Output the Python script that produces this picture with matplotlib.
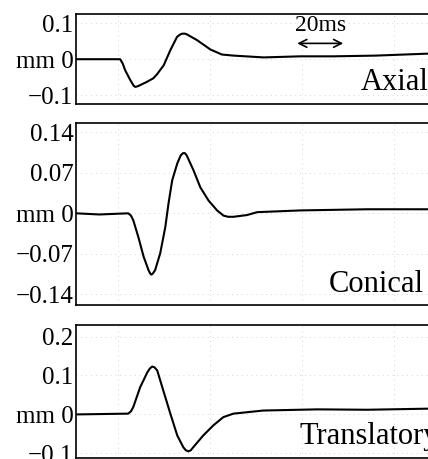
import numpy as np
from matplotlib import pyplot as plt

# time (ms) and displacement (mm)
axial_t = [0, 19.1, 20.2, 21.3, 23.5, 25.0, 25.7, 26.8, 30.7, 33.5, 35.1, 38.0, 40.9,
           43.8, 45.0, 46.0, 47.2, 48.1, 52.5, 58.3, 63.3, 68.4, 81.4, 97.4, 111.7,
           130, 155]
axial_v = [0, 0, -0.012, -0.031, -0.058, -0.074, -0.077, -0.075, -0.063, -0.053, -0.042,
           -0.017, 0.025, 0.062, 0.068, 0.071, 0.071, 0.069, 0.053, 0.027, 0.013, 0.010,
           0.005, 0.008, 0.008, 0.010, 0.016]

conical_t = [0, 10, 22.6, 23.8, 24.8, 27.0, 29.3, 31.4, 32.0, 32.6, 33.3, 34.3, 36.5,
             38.7, 40.1, 41.7, 43.9, 45.4, 46.4, 47.2, 48.0, 51.0, 53.9, 57.5, 61.2,
             64.0, 66.0, 68.3, 74.2, 78.6, 97.4, 126.5, 155]
conical_v = [0, -0.002, 0, -0.004, -0.012, -0.041, -0.075, -0.098, -0.103, -0.106, -0.104,
             -0.098, -0.069, -0.024, 0.017, 0.057, 0.086, 0.100, 0.104, 0.104, 0.100,
             0.074, 0.045, 0.022, 0.005, -0.004, -0.006, -0.006, -0.003, 0.002, 0.005,
             0.007, 0.007]

transl_t = [0, 22.6, 23.8, 24.8, 27.8, 30.9, 32.0, 33.0, 34.0, 35.2, 37.8, 40.9, 43.9,
            46.5, 47.6, 48.7, 49.8, 50.9, 55.2, 59.6, 63.9, 68.3, 81.3, 104.8, 126.5, 155]
transl_v = [0, 0.002, 0.008, 0.019, 0.070, 0.108, 0.118, 0.123, 0.121, 0.113, 0.062,
            0.002, -0.054, -0.084, -0.092, -0.095, -0.092, -0.084, -0.054, -0.028, -0.007,
            0.002, 0.010, 0.013, 0.012, 0.015]

names = ['Axial', 'Conical', 'Translatory']
yticks = [[-0.1, 0, 0.1], [-0.14, -0.07, 0, 0.07, 0.14], [-0.1, 0, 0.1, 0.2]]
yticklabels = [['\u22120.1', 'mm 0', '0.1'],
               ['\u22120.14', '\u22120.07', 'mm 0', '0.07', '0.14'],
               ['\u22120.1', 'mm 0', '0.1', '0.2']]
ylims = [(-0.125, 0.125), (-0.158, 0.156), (-0.111, 0.231)]
grid_x = [18, 58, 98, 138]

plt.rcParams['font.family'] = ['Liberation Serif', 'DejaVu Serif']

fig = plt.figure(figsize=(4.28, 4.59), dpi=100)
boxes = [[0.178, 0.773, 0.83, 0.196],
         [0.178, 0.336, 0.83, 0.396],
         [0.178, 0.003, 0.83, 0.290]]
data = [(axial_t, axial_v), (conical_t, conical_v), (transl_t, transl_v)]
name_x = [0.80, 0.71, 0.628]
name_y = [0.24, 0.11, 0.16]

for i in range(3):
    ax = fig.add_axes(boxes[i])
    t, v = data[i]
    ax.plot(t, v, color='black', lw=1.5)
    ax.set_xlim(0, 154.3)
    ax.set_ylim(*ylims[i])
    ax.set_xticks(grid_x)
    ax.set_xticklabels([])
    ax.set_yticks(yticks[i])
    ax.set_yticklabels(yticklabels[i], fontsize=18)
    ax.tick_params(length=0, pad=2)
    ax.grid(True, color='#d4d4d4', ls=(0, (1, 4)), lw=0.7)
    ax.spines['right'].set_visible(False)
    for s in ['left', 'top', 'bottom']:
        ax.spines[s].set_linewidth(1.2)
    ax.text(name_x[i], name_y[i], names[i], transform=ax.transAxes,
            fontsize=22, ha='left', va='center')
    if i == 0:
        ax.annotate('', xy=(96, 0.044), xytext=(116, 0.044),
                    arrowprops=dict(arrowstyle='<->', color='black', lw=1.2,
                                    mutation_scale=14, shrinkA=0, shrinkB=0))
        ax.text(106, 0.093, '20ms', fontsize=17, ha='center', va='center')

fig.savefig('out.png', dpi=100)
